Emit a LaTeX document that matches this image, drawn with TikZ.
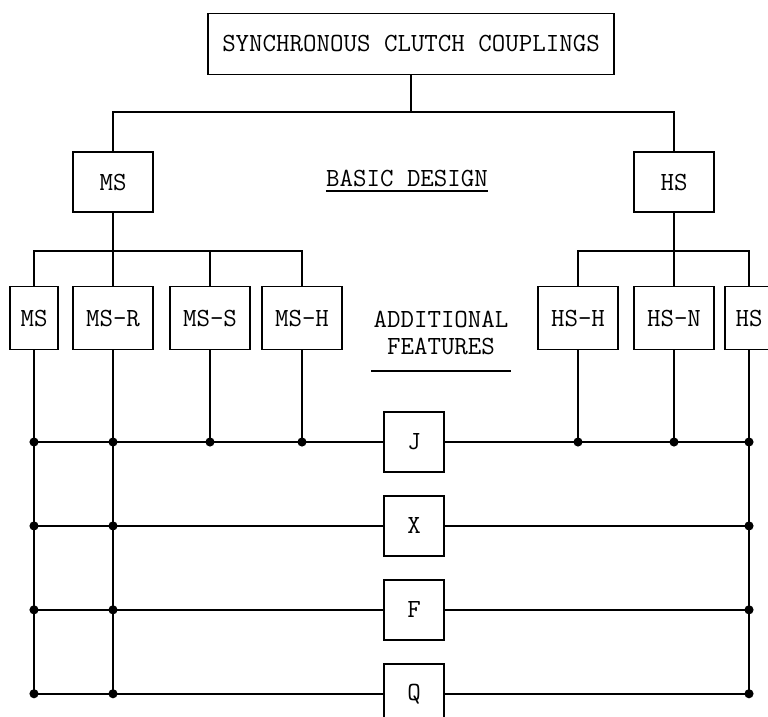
\documentclass[tikz,border=0pt]{standalone}
\usetikzlibrary{positioning}

\begin{document}
\begin{tikzpicture}[x=0.02cm, y=-0.02cm,
    block/.style={rectangle, draw, line width=1.1pt, minimum width=1.6cm, minimum height=1.2cm, align=center, font=\fontsize{14.9}{15}\ttfamily},
    variant/.style={block, minimum height=1.26cm},
    feature/.style={block, minimum width=1.2cm},
    heading/.style={inner sep=0pt, align=center, font=\fontsize{14.9}{15}\ttfamily},
    link/.style={line width=1.1pt},
    rule/.style={line width=0.8pt}
]
\useasboundingbox (0,0) rectangle (768,717);

% basic design
\node[block, minimum width=8.14cm, minimum height=1.22cm] (title) at (411,44) {SYNCHRONOUS CLUTCH COUPLINGS};
\node[block] (ms) at (113,182) {MS};
\node[block] (hs) at (674,182) {HS};
\node[heading] (basic) at (407,178) {BASIC DESIGN};
\draw[rule] ([yshift=-0.1cm]basic.base west) -- ([yshift=-0.1cm]basic.base east);

\coordinate (top) at (411,112);
\draw[link] (title) -- (top);
\draw[link] (ms) |- (top) -| (hs);

% variants
\node[variant, minimum width=0.96cm] (msa) at (34,318) {MS};
\node[variant] (msr) at (113,318) {MS-R};
\node[variant] (mss) at (210,318) {MS-S};
\node[variant] (msh) at (302,318) {MS-H};
\node[variant] (hsh) at (578,318) {HS-H};
\node[variant] (hsn) at (674,318) {HS-N};
\node[variant, minimum width=0.96cm] (hsx) at (749,318) {HS};

\coordinate (msbar) at (113,251);
\coordinate (hsbar) at (674,251);
\draw[link] (ms) -- (msr);
\draw[link] (msa) |- (msbar) -| (msh);
\draw[link] (mss) -- (mss |- msbar);
\draw[link] (hs) -- (hsn);
\draw[link] (hsh) |- (hsbar) -| (hsx);

% additional features
\node[heading] (extra) at (441,333) {ADDITIONAL\\FEATURES};
\draw[rule] ([xshift=-0.04cm, yshift=-0.32cm]extra.south west) -- ([xshift=0.04cm, yshift=-0.32cm]extra.south east);

\node[feature] (j) at (414,442) {J};
\node[feature, below=0.44cm of j] (x) {X};
\node[feature, below=0.44cm of x] (f) {F};
\node[feature, below=0.44cm of f] (q) {Q};

\draw[link] (msa) -- (msa |- q);
\draw[link] (msr) -- (msr |- q);
\draw[link] (mss) -- (mss |- j);
\draw[link] (msh) -- (msh |- j);
\draw[link] (hsh) -- (hsh |- j);
\draw[link] (hsn) -- (hsn |- j);
\draw[link] (hsx) -- (hsx |- q);

\draw[link] (msa |- j) -- (j) -- (hsx |- j);
\draw[link] (msa |- x) -- (x) -- (hsx |- x);
\draw[link] (msa |- f) -- (f) -- (hsx |- f);
\draw[link] (msa |- q) -- (q) -- (hsx |- q);

\foreach \n in {msa, msr, mss, msh, hsh, hsn, hsx}
    \fill (\n |- j) circle (2.6pt);
\foreach \r in {x, f, q}
    \foreach \n in {msa, msr, hsx}
        \fill (\n |- \r) circle (2.6pt);
\end{tikzpicture}
\end{document}
